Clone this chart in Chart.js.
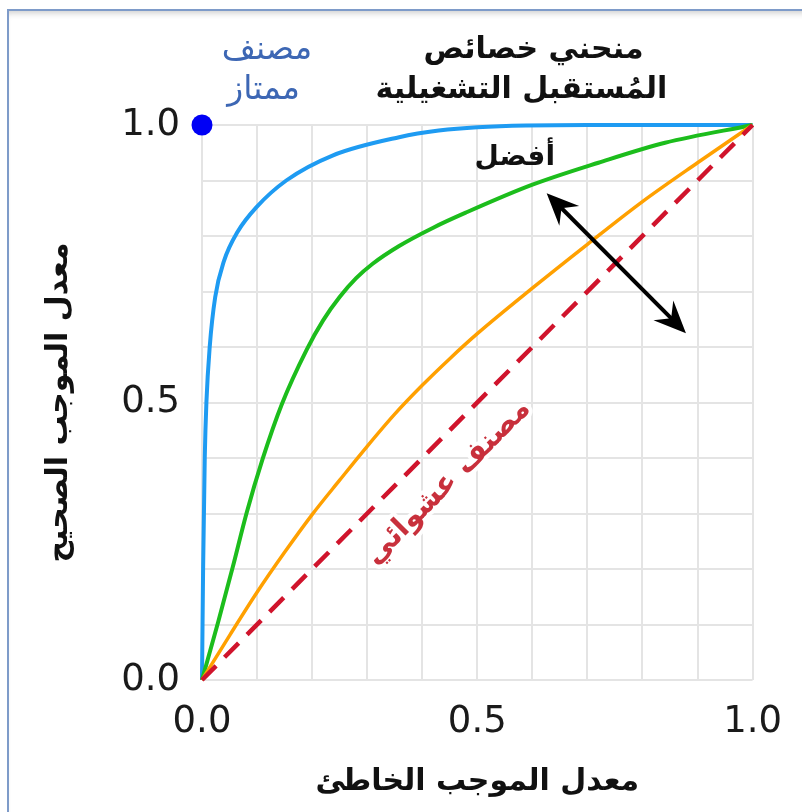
<!DOCTYPE html>
<html><head><meta charset="utf-8">
<script src="https://cdn.jsdelivr.net/npm/chart.js@4.4.1/dist/chart.umd.min.js"></script>
<style>
html,body{margin:0;padding:0;background:#fff;}
#wrap{position:relative;width:802px;height:812px;overflow:hidden;}
#frame{position:absolute;left:7px;top:9px;width:820px;height:820px;border-top:2px solid #7e9bc9;border-left:2px solid #7e9bc9;box-shadow:inset 0 6px 6px -4px rgba(0,0,0,0.2);pointer-events:none;}
canvas{position:absolute;left:0;top:0;}
</style></head><body>
<div id="wrap"><canvas id="c" width="802" height="812"></canvas><div id="frame"></div></div>
<script>
// ---- data ----
const tickValues = [0, 0.5, 1];
const tickLabels = ['0.0', '0.5', '1.0'];

const excellentFPR = [0, 0.002, 0.005, 0.008, 0.014, 0.024, 0.04, 0.065, 0.099, 0.153, 0.237, 0.358, 0.43, 0.5, 0.7, 1];
const excellentTPR = [0, 0.2, 0.4, 0.5, 0.6, 0.69, 0.755, 0.808, 0.852, 0.9, 0.945, 0.978, 0.99, 0.996, 1, 1];

const goodFPR = [0, 0.029, 0.056, 0.081, 0.110, 0.145, 0.19, 0.22, 0.25, 0.28, 0.31, 0.358, 0.42, 0.479, 0.599, 0.72, 0.841, 1];
const goodTPR = [0, 0.103, 0.204, 0.301, 0.398, 0.497, 0.595, 0.648, 0.69, 0.724, 0.75, 0.782, 0.815, 0.842, 0.892, 0.932, 0.968, 1];

const fairFPR = [0, 0.05, 0.1, 0.15, 0.2, 0.25, 0.3, 0.35, 0.4, 0.45, 0.5, 0.6, 0.7, 0.8, 0.9, 1];
const fairTPR = [0, 0.08, 0.158, 0.23, 0.298, 0.36, 0.421, 0.479, 0.531, 0.579, 0.624, 0.706, 0.785, 0.862, 0.932, 1];

const randomFPR = [0, 1];
const randomTPR = [0, 1];

const perfectFPR = [0];
const perfectTPR = [1];

const xTitle = 'معدل الموجب الخاطئ';
const yTitle = 'معدل الموجب الصحيح';
const chartTitle = ['منحني خصائص', 'المُستقبل التشغيلية'];
const perfectLabel = ['مصنف', 'ممتاز'];
const betterLabel = 'أفضل';
const randomLabel = 'مصنف عشوائي';

// ---- helpers ----
const pts = (xs, ys) => xs.map((x, i) => ({x, y: ys[i]}));
const AR_FONT = '"DejaVu Sans", sans-serif';
const NUM_FONT = '"DejaVu Sans", "Liberation Sans", sans-serif';

const annotations = {
  id: 'annotations',
  afterDatasetsDraw(chart) {
    const {ctx, scales: {x, y}} = chart;
    const X = v => x.getPixelForValue(v), Y = v => y.getPixelForValue(v);
    ctx.save();
    ctx.textAlign = 'center';
    ctx.textBaseline = 'middle';

    // two-headed arrow "better"
    const a = {x: X(0.626), y: Y(0.877)}, b = {x: X(0.879), y: Y(0.625)};
    const ang = Math.atan2(b.y - a.y, b.x - a.x);
    const head = (p, dir) => {
      const L = 32, W = 14, notch = 21;
      const ux = Math.cos(dir), uy = Math.sin(dir);
      const bx = p.x - ux * L, by = p.y - uy * L;
      ctx.beginPath();
      ctx.moveTo(p.x, p.y);
      ctx.lineTo(bx - uy * W, by + ux * W);
      ctx.lineTo(p.x - ux * notch, p.y - uy * notch);
      ctx.lineTo(bx + uy * W, by - ux * W);
      ctx.closePath();
      ctx.fillStyle = '#000';
      ctx.fill();
    };
    ctx.strokeStyle = '#000';
    ctx.lineWidth = 4;
    ctx.beginPath();
    ctx.moveTo(a.x + Math.cos(ang) * 18, a.y + Math.sin(ang) * 18);
    ctx.lineTo(b.x - Math.cos(ang) * 18, b.y - Math.sin(ang) * 18);
    ctx.stroke();
    head(a, ang + Math.PI);
    head(b, ang);

    // chart title (top)
    ctx.font = 'bold 30px ' + AR_FONT;
    ctx.fillStyle = '#111';
    ctx.fillText(chartTitle[0], X(0.602), Y(1.135));
    ctx.fillText(chartTitle[1], X(0.58), Y(1.062));

    // perfect classifier label
    ctx.font = '33px ' + AR_FONT;
    ctx.fillStyle = '#3d67b4';
    ctx.fillText(perfectLabel[0], X(0.118), Y(1.135));
    ctx.fillText(perfectLabel[1], X(0.112), Y(1.062));

    // better
    ctx.font = 'bold 28px ' + AR_FONT;
    ctx.fillStyle = '#111';
    ctx.fillText(betterLabel, X(0.568), Y(0.941));

    // random classifier label, rotated along the diagonal
    ctx.save();
    ctx.translate(X(0.447), Y(0.356));
    ctx.rotate(-Math.PI / 4);
    ctx.font = 'bold 29px ' + AR_FONT;
    ctx.lineJoin = 'round';
    ctx.strokeStyle = 'rgba(255,255,255,0.9)';
    ctx.lineWidth = 8;
    ctx.strokeText(randomLabel, 0, 0);
    ctx.fillStyle = '#c8303c';
    ctx.fillText(randomLabel, 0, 0);
    ctx.restore();

    ctx.restore();
  }
};

const tickCb = v => { const i = tickValues.findIndex(t => Math.abs(t - v) < 1e-6); return i >= 0 ? tickLabels[i] : ''; };

new Chart(document.getElementById('c'), {
  type: 'scatter',
  data: {
    datasets: [
      {label: 'random', data: pts(randomFPR, randomTPR), showLine: true, borderColor: '#d0142c', borderWidth: 4.5, borderDash: [20, 12], pointRadius: 0, order: 1},
      {label: 'fair', data: pts(fairFPR, fairTPR), showLine: true, borderColor: '#ffa000', borderWidth: 3.5, pointRadius: 0, cubicInterpolationMode: 'monotone', order: 2},
      {label: 'good', data: pts(goodFPR, goodTPR), showLine: true, borderColor: '#1cbd1c', borderWidth: 4, pointRadius: 0, cubicInterpolationMode: 'monotone', order: 3},
      {label: 'excellent', data: pts(excellentFPR, excellentTPR), showLine: true, borderColor: '#1e9bf2', borderWidth: 4, pointRadius: 0, cubicInterpolationMode: 'monotone', order: 4},
      {label: 'perfect', data: pts(perfectFPR, perfectTPR), showLine: false, backgroundColor: '#0000f5', borderColor: '#0000f5', pointRadius: 10.5, borderWidth: 0, clip: false, order: 0}
    ]
  },
  options: {
    responsive: false,
    animation: false,
    clip: false,
    layout: {padding: {top: 125, right: 47, left: 0, bottom: 0}},
    plugins: {legend: {display: false}, tooltip: {enabled: false}},
    scales: {
      x: {
        type: 'linear', min: 0, max: 1,
        afterFit: s => { s.height = 132; },
        grid: {color: '#e4e4e4', lineWidth: 2, drawTicks: false},
        border: {display: false},
        ticks: {
          stepSize: 0.1, padding: 20, autoSkip: false, maxRotation: 0,
          color: '#1a1a1a', font: {family: NUM_FONT, size: 37},
          callback: tickCb
        },
        title: {display: true, text: xTitle, color: '#111', font: {family: AR_FONT, size: 30, weight: 'bold'}, padding: {top: 0, bottom: 12}}
      },
      y: {
        type: 'linear', min: 0, max: 1,
        afterFit: s => { s.width = 202; },
        grid: {color: '#e4e4e4', lineWidth: 2, drawTicks: false},
        border: {display: false},
        ticks: {
          stepSize: 0.1, padding: 22, autoSkip: false,
          color: '#1a1a1a', font: {family: NUM_FONT, size: 37},
          callback: tickCb
        },
        title: {display: true, text: yTitle, color: '#111', font: {family: AR_FONT, size: 30, weight: 'bold'}, padding: {top: 41, bottom: 0}}
      }
    }
  },
  plugins: [annotations]
});
</script>
</body></html>
